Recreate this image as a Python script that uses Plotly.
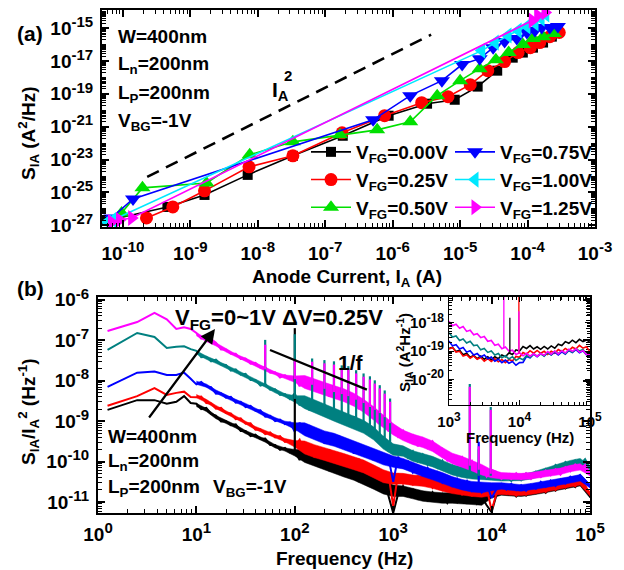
import plotly.graph_objects as go

FONT = "Liberation Sans, Arial, sans-serif"
W, H = 624, 570

# ---------------- Panel (a): S_IA vs anode current (log10 values) ----------------
a_names = ["V<sub>FG</sub>=0.00V", "V<sub>FG</sub>=0.25V", "V<sub>FG</sub>=0.50V",
           "V<sub>FG</sub>=0.75V", "V<sub>FG</sub>=1.00V", "V<sub>FG</sub>=1.25V"]
ia_000 = [-10.26, -9.34, -8.79, -8.15, -7.48, -6.74, -6.06, -5.49, -5.08, -4.74, -4.45, -4.22, -4.07, -3.92, -3.77, -3.64, -3.55]
s_000 = [-26.73, -25.88, -25.15, -23.93, -22.77, -21.55, -20.33, -19.60, -19.36, -18.56, -17.59, -16.80, -16.49, -16.19, -15.88, -15.52, -15.21]
ia_025 = [-9.65, -9.26, -8.79, -8.13, -7.48, -6.75, -6.12, -5.57, -5.18, -4.85, -4.59, -4.34, -4.14, -3.96, -3.82, -3.67, -3.53]
s_025 = [-26.55, -25.88, -24.90, -23.44, -22.77, -21.37, -20.33, -19.54, -19.17, -18.44, -17.59, -17.04, -16.49, -16.19, -15.88, -15.52, -15.27]
ia_050 = [-10.02, -9.71, -8.76, -8.12, -7.48, -6.78, -6.23, -5.74, -5.34, -5.00, -4.71, -4.47, -4.28, -4.07, -3.92, -3.77, -3.61]
s_050 = [-26.25, -24.72, -24.42, -22.71, -21.92, -21.49, -21.19, -20.70, -19.11, -18.20, -17.47, -16.92, -16.49, -16.00, -15.64, -15.52, -15.33]
ia_075 = [-10.17, -9.85, -6.29, -5.74, -5.27, -4.97, -4.71, -4.51, -4.34, -4.16, -4.01, -3.89, -3.79, -3.67, -3.55]
s_075 = [-26.55, -25.39, -20.58, -19.11, -18.20, -17.22, -16.86, -16.19, -15.82, -15.64, -15.27, -15.15, -14.97, -14.97, -14.91]
ia_100 = [-10.23, -10.15, -4.68, -4.48, -4.29, -4.14, -4.01, -3.89, -3.80, -3.73]
s_100 = [-26.80, -26.67, -16.37, -15.88, -15.45, -15.15, -14.90, -14.72, -14.42, -14.17]
ia_125 = [-10.17, -10.05, -9.87, -3.93, -3.85, -3.74]
s_125 = [-26.80, -26.67, -26.55, -14.54, -14.23, -14.05]
i2_ia = [-9.64, -5.43]          # I_A^2 guide line
i2_s = [-24.05, -15.40]

# ---------------- Panel (b): normalized noise spectra (log10 values) ----------------
f_low = [1.25, 2.5, 3.75, 5.0, 6.25, 7.5, 8.75]
f_grid = [10, 11.2, 12.6, 14.1, 15.8, 17.8, 20, 22.4, 25.1, 28.2, 31.6, 35.5, 39.8, 44.7, 50.1, 56.2, 63.1, 70.8, 79.4, 89.1, 100,
          112, 126, 141, 158, 178, 200, 224, 251, 282, 316, 355, 398, 447, 501, 562, 631, 708, 794, 891, 1000,
          1122, 1259, 1413, 1585, 1778, 1995, 2239, 2512, 2818, 3162, 3548, 3981, 4467, 5012, 5623, 6310, 7079, 7943, 8913, 10000,
          11220, 12589, 14125, 15849, 17783, 19953, 22387, 25119, 28184, 31623, 35481, 39811, 44668, 50119, 56234, 63096, 70795, 79433, 89125, 100000]
b_black = [-8.72, -8.48, -8.48, -8.57, -8.52, -8.38, -8.55,
           -8.57, -8.70, -8.67, -8.82, -8.86, -9.01, -9.00, -9.10, -9.08, -9.24, -9.24, -9.37, -9.33, -9.44, -9.43, -9.59, -9.59, -9.71, -9.66, -9.77, -9.73,
           -9.96, -9.74, -10.00, -9.80, -10.13, -9.96, -10.23, -10.01, -10.26, -10.08, -10.38, -10.20, -10.50, -10.27, -10.53, -10.40, -10.72, -10.55, -10.83, -11.27,
           -10.80, -10.61, -10.84, -10.69, -10.94, -10.76, -10.98, -10.76, -10.96, -10.80, -11.02, -10.82, -11.00, -10.80, -11.01, -10.81, -11.04, -10.88, -11.08, -11.25,
           -10.82, -10.70, -10.80, -10.72, -10.86, -10.73, -10.84, -10.69, -10.78, -10.66, -10.77, -10.63, -10.72, -10.57, -10.66, -10.52, -10.63, -10.50, -10.61, -10.85]
b_red = [-8.62, -8.38, -8.18, -8.35, -8.30, -8.27, -8.40,
         -8.41, -8.39, -8.55, -8.56, -8.69, -8.67, -8.80, -8.81, -8.95, -8.93, -9.06, -9.05, -9.21, -9.20, -9.32, -9.28, -9.40, -9.37, -9.51, -9.49, -9.61,
         -9.46, -9.77, -9.60, -9.89, -9.65, -9.89, -9.70, -10.00, -9.83, -10.10, -9.88, -10.14, -9.93, -10.25, -10.10, -10.36, -10.16, -10.45, -10.29, -11.10,
         -10.30, -10.54, -10.36, -10.56, -10.35, -10.57, -10.39, -10.65, -10.49, -10.70, -10.51, -10.74, -10.58, -10.81, -10.63, -10.85, -10.64, -10.82, -10.65, -11.20,
         -10.79, -10.65, -10.79, -10.68, -10.84, -10.70, -10.82, -10.65, -10.76, -10.62, -10.75, -10.59, -10.70, -10.52, -10.64, -10.48, -10.61, -10.45, -10.59, -10.80]
b_blue = [-8.15, -7.80, -7.77, -7.86, -7.86, -7.80, -7.95,
          -8.09, -8.03, -8.14, -8.16, -8.32, -8.31, -8.42, -8.40, -8.54, -8.52, -8.65, -8.62, -8.74, -8.73, -8.89, -8.87, -9.00, -8.96, -9.07, -9.03, -9.26,
          -9.04, -9.30, -9.10, -9.43, -9.27, -9.55, -9.31, -9.55, -9.36, -9.67, -9.50, -9.80, -9.56, -9.81, -9.65, -9.96, -9.78, -10.05, -9.87, -10.50,
          -9.88, -10.13, -10.00, -10.27, -10.11, -10.35, -10.16, -10.39, -10.26, -10.52, -10.37, -10.60, -10.43, -10.66, -10.48, -10.72, -10.56, -10.76, -10.56, -10.90,
          -10.68, -10.55, -10.69, -10.55, -10.70, -10.58, -10.72, -10.57, -10.67, -10.50, -10.62, -10.47, -10.60, -10.44, -10.54, -10.37, -10.47, -10.33, -10.46, -10.60]
b_teal = [-7.24, -6.82, -6.92, -7.19, -7.16, -7.15, -7.22,
          -7.26, -7.42, -7.41, -7.52, -7.48, -7.60, -7.61, -7.75, -7.72, -7.85, -7.83, -7.98, -7.98, -8.12, -8.08, -8.22, -8.21, -8.35, -8.33, -8.45, -8.31,
          -8.61, -8.43, -8.73, -8.50, -8.76, -8.58, -8.91, -8.75, -9.03, -8.82, -9.08, -8.88, -9.21, -9.06, -9.32, -9.16, -9.51, -9.40, -9.75, -9.60,
          -9.82, -9.66, -9.90, -9.74, -9.99, -9.82, -10.08, -9.93, -10.15, -9.98, -10.23, -10.10, -10.34, -10.17, -10.40, -10.20, -10.38, -10.20, -10.43, -10.43,
          -10.30, -10.45, -10.33, -10.48, -10.34, -10.46, -10.30, -10.40, -10.25, -10.36, -10.18, -10.27, -10.08, -10.18, -10.01, -10.13, -9.97, -10.07, -9.94, -10.15]
b_magenta = [-6.77, -6.55, -6.32, -6.48, -6.72, -6.68, -6.72,
             -6.82, -6.96, -6.94, -6.97, -7.06, -7.23, -7.23, -7.33, -7.33, -7.46, -7.45, -7.58, -7.56, -7.68, -7.67, -7.80, -7.79, -7.92, -7.86, -7.96, -7.91,
             -8.14, -7.91, -8.17, -7.97, -8.28, -8.12, -8.39, -8.16, -8.41, -8.22, -8.52, -8.37, -8.70, -8.49, -8.78, -8.68, -9.04, -8.91, -9.23, -9.10,
             -9.38, -9.23, -9.48, -9.35, -9.62, -9.43, -9.66, -9.50, -9.77, -9.68, -9.97, -9.84, -10.06, -9.89, -10.14, -9.98, -10.25, -10.13, -10.37, -10.20,
             -10.25, -10.43, -10.31, -10.43, -10.29, -10.43, -10.29, -10.43, -10.28, -10.38, -10.22, -10.34, -10.19, -10.32, -10.14, -10.24, -10.07, -10.18, -10.08, -10.30]
# noise-band envelope: band centre (log10) at 0.1-decade steps and band half-width (decades)
env_f = [10, 12.6, 15.8, 20, 25.1, 31.6, 39.8, 50.1, 63.1, 79.4, 100, 126, 158, 200, 251, 316, 398, 501, 631, 794, 1000,
         1259, 1585, 1995, 2512, 3162, 3981, 5012, 6310, 7943, 10000, 12589, 15849, 19953, 25119, 31623, 39811, 50119, 63096, 79433, 100000]
env_hw = [0.04, 0.04, 0.04, 0.04, 0.04, 0.04, 0.04, 0.04, 0.04, 0.04, 0.08, 0.16, 0.16, 0.16, 0.16, 0.16, 0.16, 0.16, 0.16, 0.16, 0.14,
          0.13, 0.13, 0.13, 0.13, 0.13, 0.13, 0.13, 0.13, 0.13, 0.10, 0.08, 0.08, 0.08, 0.08, 0.08, 0.08, 0.08, 0.08, 0.08, 0.05]
env_black = [-8.60, -8.72, -8.90, -9.02, -9.13, -9.27, -9.37, -9.48, -9.62, -9.70, -9.78, -9.86, -9.95, -10.04, -10.13, -10.22, -10.30, -10.40, -10.52, -10.64, -10.72,
             -10.73, -10.79, -10.85, -10.88, -10.90, -10.90, -10.91, -10.93, -10.95, -10.80, -10.75, -10.77, -10.78, -10.75, -10.71, -10.67, -10.62, -10.57, -10.52, -10.85]
env_red = [-8.38, -8.50, -8.65, -8.78, -8.90, -9.03, -9.17, -9.27, -9.37, -9.47, -9.56, -9.65, -9.74, -9.81, -9.88, -9.96, -10.04, -10.12, -10.24, -10.36, -10.42,
           -10.42, -10.46, -10.48, -10.53, -10.60, -10.66, -10.70, -10.73, -10.75, -10.74, -10.73, -10.75, -10.76, -10.73, -10.69, -10.65, -10.60, -10.55, -10.50, -10.80]
env_blue = [-8.05, -8.12, -8.27, -8.39, -8.50, -8.60, -8.72, -8.85, -8.95, -9.04, -9.12, -9.20, -9.30, -9.40, -9.46, -9.55, -9.65, -9.73, -9.82, -9.92, -10.00,
            -10.05, -10.15, -10.24, -10.32, -10.40, -10.50, -10.57, -10.62, -10.64, -10.62, -10.60, -10.63, -10.65, -10.62, -10.58, -10.54, -10.50, -10.45, -10.40, -10.60]
env_teal = [-7.30, -7.43, -7.53, -7.64, -7.76, -7.88, -8.00, -8.12, -8.26, -8.36, -8.45, -8.53, -8.63, -8.73, -8.84, -8.94, -9.03, -9.14, -9.30, -9.53, -9.70,
            -9.74, -9.86, -9.93, -10.00, -10.10, -10.20, -10.26, -10.30, -10.32, -10.36, -10.40, -10.40, -10.39, -10.35, -10.28, -10.20, -10.12, -10.05, -10.00, -10.15]
env_magenta = [-6.85, -6.99, -7.10, -7.25, -7.38, -7.48, -7.60, -7.72, -7.82, -7.90, -7.96, -8.03, -8.12, -8.20, -8.28, -8.36, -8.47, -8.62, -8.80, -9.00, -9.20,
               -9.35, -9.45, -9.52, -9.62, -9.78, -9.92, -10.00, -10.10, -10.20, -10.30, -10.35, -10.36, -10.37, -10.35, -10.31, -10.28, -10.24, -10.17, -10.13, -10.30]
# line-frequency harmonics and other spikes
spike_f = [50, 100, 150, 200, 250, 300, 350, 420, 500, 580, 650, 730, 820, 930, 6000, 7400, 9800]
teal_spike_top = [-6.99, -6.85, -7.45, -7.49, -7.52, -7.62, -7.64, -7.74, -7.82, -7.89, -7.99, -8.11, -8.24, -8.44, -8.08, -9.70, -8.65]
teal_spike_base = [-8.12, -8.45, -8.58, -8.73, -8.84, -8.90, -8.98, -9.05, -9.14, -9.25, -9.35, -9.45, -9.55, -9.65, -10.30, -10.35, -10.35]
mag_spike_top = [-7.11, -7.50, -7.53, -7.57, -7.60, -7.70, -7.72, -7.82, -7.90, -7.97, -8.07, -8.19, -8.32, -8.52, -8.15, -9.62, -8.72]
mag_spike_base = [-7.72, -7.96, -8.10, -8.20, -8.28, -8.33, -8.38, -8.47, -8.55, -8.65, -8.72, -8.80, -8.90, -9.05, -10.10, -10.20, -10.30]
blk_spike_f, blk_spike_top, blk_spike_base = [100], [-6.70], [-9.80]
blu_spike_f, blu_spike_top, blu_spike_base = [7400], [-9.51], [-10.60]
one_f_x = [56, 540]
one_f_y = [-7.24, -8.22]

# ---------------- Inset: S_IA spectra 1 kHz - 100 kHz (log10 values) ----------------
fi = [1000, 1122, 1259, 1413, 1585, 1778, 1995, 2239, 2512, 2818, 3162, 3548, 3981, 4467, 5012, 5623, 6310, 7079, 7943, 8913, 10000,
      11220, 12589, 14125, 15849, 17783, 19953, 22387, 25119, 28184, 31623, 35481, 39811, 44668, 50119, 56234, 63096, 70795, 79433, 89125, 100000]
in_black = [-18.91, -18.87, -19.02, -18.97, -19.13, -19.08, -19.22, -19.16, -19.27, -19.18, -19.29, -19.20, -19.31, -19.20, -19.27, -19.14, -19.20, -19.07, -19.12, -18.96, -19.00,
            -18.84, -18.91, -18.81, -18.93, -18.85, -18.94, -18.84, -18.93, -18.82, -18.90, -18.76, -18.81, -18.67, -18.73, -18.62, -18.71, -18.59, -18.67, -18.61, -18.70]
in_red = [-18.93, -18.88, -19.04, -19.01, -19.18, -19.13, -19.25, -19.17, -19.29, -19.23, -19.36, -19.27, -19.37, -19.27, -19.38, -19.30, -19.41, -19.30, -19.35, -19.19, -19.22,
          -19.05, -19.11, -18.99, -19.08, -18.98, -19.08, -19.01, -19.12, -19.01, -19.08, -18.95, -19.02, -18.91, -18.99, -18.87, -18.93, -18.80, -18.90, -18.85, -19.03]
in_blue = [-18.65, -18.82, -18.78, -18.93, -18.88, -19.04, -18.99, -19.14, -19.09, -19.21, -19.14, -19.27, -19.21, -19.36, -19.29, -19.41, -19.32, -19.43, -19.37, -19.50, -19.41,
           -19.40, -19.19, -19.24, -19.11, -19.20, -19.10, -19.17, -19.05, -19.14, -19.04, -19.14, -19.03, -19.11, -18.98, -19.05, -18.95, -19.06, -18.99, -19.13, -19.17]
in_teal = [-18.36, -18.51, -18.47, -18.63, -18.58, -18.72, -18.66, -18.81, -18.79, -18.96, -18.91, -19.05, -19.00, -19.14, -19.09, -19.24, -19.17, -19.28, -19.20, -19.33, -19.25,
           -19.31, -19.16, -19.23, -19.10, -19.18, -19.09, -19.18, -19.06, -19.13, -19.01, -19.09, -18.99, -19.09, -18.97, -19.04, -18.92, -19.00, -18.95, -19.11, -19.12]
in_magenta = [-17.95, -18.11, -18.06, -18.20, -18.14, -18.31, -18.27, -18.43, -18.39, -18.53, -18.49, -18.66, -18.63, -18.80, -18.76, -18.92, -18.86, -19.00, -18.97, -19.12, -19.06,
              -19.17, -19.08, -19.18, -19.09, -19.19, -19.09, -19.15, -19.02, -19.11, -19.00, -19.10, -18.99, -19.07, -18.94, -19.01, -18.92, -19.04, -18.98, -19.12, -19.12]
in_blk_spike_f, in_blk_spike_top, in_blk_spike_base = [7300], [-17.83], [-19.10]
in_red_spike_f, in_red_spike_top, in_red_spike_base = [9800], [-16.90], [-19.10]
in_mag_spike_f, in_mag_spike_top, in_mag_spike_base = [6000, 9800], [-16.90, -17.60], [-18.90, -19.10]

C_BLACK, C_RED, C_GREEN, C_BLUE, C_CYAN, C_MAG, C_TEAL = "#000000", "#ff0000", "#00e000", "#0000ff", "#00e8ff", "#ff00ff", "#008080"


def p10(vals):
    return [10.0 ** v for v in vals]


def px(x):
    return x / W


def py(y):
    return 1 - y / H


def spikes(fs, tops, bases):
    xs, ys = [], []
    for f, t, b in zip(fs, tops, bases):
        xs += [f, f, None]
        ys += [10.0 ** b, 10.0 ** t, None]
    return xs, ys


fig = go.Figure()

# ---- panel (a) traces ----
a_series = [
    (ia_000, s_000, "square", 10, C_BLACK, "legend"),
    (ia_025, s_025, "circle", 13, C_RED, "legend"),
    (ia_050, s_050, "triangle-up", 14, C_GREEN, "legend"),
    (ia_075, s_075, "triangle-down", 14, C_BLUE, "legend2"),
    (ia_100, s_100, "triangle-left", 14, C_CYAN, "legend2"),
    (ia_125, s_125, "triangle-right", 14, C_MAG, "legend2"),
]
for k, (xv, yv, sym, sz, col, lg) in enumerate(a_series):
    fig.add_trace(go.Scatter(x=p10(xv), y=p10(yv), mode="lines+markers", name=a_names[k],
                             line=dict(color=col, width=1.6), marker=dict(symbol=sym, size=sz, color=col, line=dict(width=0)),
                             xaxis="x", yaxis="y", legend=lg, legendgroup=f"g{k}"))
fig.add_trace(go.Scatter(x=p10(i2_ia), y=p10(i2_s), mode="lines", line=dict(color="black", width=2.6, dash="13px,8px"),
                         showlegend=False, xaxis="x", yaxis="y"))

# ---- panel (b) traces ----
for vals, env, col in [(b_black, env_black, C_BLACK), (b_red, env_red, C_RED), (b_blue, env_blue, C_BLUE),
                       (b_teal, env_teal, C_TEAL), (b_magenta, env_magenta, C_MAG)]:
    upper = [10.0 ** (c + h) for c, h in zip(env, env_hw)]
    lower = [10.0 ** (c - h) for c, h in zip(env, env_hw)]
    fig.add_trace(go.Scatter(x=env_f + env_f[::-1], y=upper + lower[::-1], mode="lines", fill="toself",
                             fillcolor=col, line=dict(color=col, width=0.5),
                             showlegend=False, xaxis="x2", yaxis="y2", hoverinfo="skip"))
    fig.add_trace(go.Scatter(x=f_low + f_grid, y=p10(vals), mode="lines", line=dict(color=col, width=2),
                             showlegend=False, xaxis="x2", yaxis="y2"))
for fs, tops, bases, col in [(blk_spike_f, blk_spike_top, blk_spike_base, C_BLACK),
                             (blu_spike_f, blu_spike_top, blu_spike_base, C_BLUE),
                             (spike_f, teal_spike_top, teal_spike_base, C_TEAL),
                             (spike_f, mag_spike_top, mag_spike_base, C_MAG)]:
    sx, sy = spikes(fs, tops, bases)
    fig.add_trace(go.Scatter(x=sx, y=sy, mode="lines", line=dict(color=col, width=2.2),
                             showlegend=False, xaxis="x2", yaxis="y2"))
fig.add_trace(go.Scatter(x=one_f_x, y=p10(one_f_y), mode="lines", line=dict(color="black", width=2.2),
                         showlegend=False, xaxis="x2", yaxis="y2"))

# ---- inset traces ----
for vals, col in [(in_black, C_BLACK), (in_red, C_RED), (in_blue, C_BLUE), (in_teal, C_TEAL), (in_magenta, C_MAG)]:
    fig.add_trace(go.Scatter(x=fi, y=p10(vals), mode="lines", line=dict(color=col, width=1.6),
                             showlegend=False, xaxis="x3", yaxis="y3"))
for fs, tops, bases, col in [(in_blk_spike_f, in_blk_spike_top, in_blk_spike_base, C_BLACK),
                             (in_red_spike_f, in_red_spike_top, in_red_spike_base, C_RED),
                             (in_mag_spike_f, in_mag_spike_top, in_mag_spike_base, C_MAG)]:
    sx, sy = spikes(fs, tops, bases)
    fig.add_trace(go.Scatter(x=sx, y=sy, mode="lines", line=dict(color=col, width=1.3),
                             showlegend=False, xaxis="x3", yaxis="y3"))


def log_axis(domain, rng, anchor, major, size, sup, lw=2, tl=7, ml=4, standoff=None, extra_minor=()):
    minor_vals = [m * 10.0 ** e for e in range(min(major) - 2, max(major) + 2) for m in range(2, 10)]
    minor_vals += [10.0 ** e for e in extra_minor]
    ax = dict(type="log", domain=domain, range=rng, anchor=anchor, automargin=False,
              tickmode="array", tickvals=[10.0 ** e for e in major],
              ticktext=[f"10<sup><span style='font-size:{sup}px'>{e}</span></sup>" for e in major],
              ticks="inside", ticklen=tl, tickwidth=lw, tickcolor="black",
              showline=True, linewidth=lw, linecolor="black", mirror="allticks",
              showgrid=False, zeroline=False,
              tickfont=dict(family=FONT, size=size, color="black", weight="bold"),
              minor=dict(tickmode="array", tickvals=minor_vals,
                         ticks="inside", ticklen=ml, tickwidth=1, tickcolor="black", showgrid=False))
    if standoff is not None:
        ax["ticklabelstandoff"] = standoff
    return ax


LEG_FONT = dict(family=FONT, size=19, color="black", weight="bold")
layout = dict(
    width=W, height=H, autosize=False, margin=dict(l=0, r=0, t=0, b=0),
    paper_bgcolor="white", plot_bgcolor="rgba(0,0,0,0)",
    font=dict(family=FONT, color="black"),
    xaxis=log_axis([px(102), px(595)], [-10.31, -3.0], "y", list(range(-10, -2)), 19, 15, standoff=8),
    yaxis=log_axis([py(227), py(10)], [-27.1, -13.9], "x", [-27, -25, -23, -21, -19, -17, -15], 19, 15, standoff=3,
                   extra_minor=[-26, -24, -22, -20, -18, -16, -14]),
    xaxis2=log_axis([px(98), px(590)], [0, 5], "y2", list(range(0, 6)), 19, 15, standoff=3),
    yaxis2=log_axis([py(513), py(297)], [-11.27, -5.93], "x2", list(range(-11, -5)), 19, 15, standoff=3),
    xaxis3=log_axis([px(449), px(590)], [3, 5], "y3", [3, 4, 5], 15, 12, lw=1, tl=5, ml=3, standoff=3),
    yaxis3=log_axis([py(405), py(297)], [-20.9, -17.1], "x3", [-20, -19, -18], 15, 12, lw=1, tl=5, ml=3, standoff=1),
    legend=dict(x=px(306), y=py(133), xanchor="left", yanchor="top", orientation="v", itemwidth=40,
                traceorder="grouped", tracegroupgap=0, bgcolor="rgba(0,0,0,0)", font=LEG_FONT),
    legend2=dict(x=px(450), y=py(133), xanchor="left", yanchor="top", orientation="v", itemwidth=40,
                 traceorder="grouped", tracegroupgap=0, bgcolor="rgba(0,0,0,0)", font=LEG_FONT),
)
fig.update_layout(**layout)


def ann(text, x, y, size, xanchor="left", yanchor="middle", angle=0):
    return dict(text=text, x=px(x), y=py(y), xref="paper", yref="paper", xanchor=xanchor, yanchor=yanchor,
                showarrow=False, textangle=angle, font=dict(family=FONT, size=size, color="black", weight="bold"))


anns = [
    ann("(a)", 15, 34, 21),
    ann("W=400nm", 116, 37, 19),
    ann("L<sub>n</sub>=200nm", 116, 65, 19),
    ann("L<sub>P</sub>=200nm", 116, 94, 19),
    ann("V<sub>BG</sub>=-1V", 116, 122, 19),
    ann("I<sub>A</sub>", 270, 91, 21),
    ann("2", 282, 76, 15),
    ann("Anode Current, I<sub>A</sub> (A)", 347, 278, 19, xanchor="center"),
    ann("S<sub>IA</sub> (A<sup>2</sup>/Hz)", 28, 133, 19, xanchor="center", angle=-90),
    ann("(b)", 15, 288, 21),
    ann("V<sub>FG</sub>=0~1V ΔV=0.25V", 173, 319, 22),
    ann("1/f", 336, 362, 21),
    ann("W=400nm", 106, 436, 19),
    ann("L<sub>n</sub>=200nm", 106, 462, 19),
    ann("L<sub>P</sub>=200nm", 106, 488, 19),
    ann("V<sub>BG</sub>=-1V", 211, 488, 19),
    ann("Frequency (Hz)", 344, 558, 19, xanchor="center"),
    ann("S<sub>IA</sub>/I<sub>A</sub><sup>2</sup> (Hz<sup>-1</sup>)", 28, 412, 19, xanchor="center", angle=-90),
    ann("Frequency (Hz)", 520, 437, 15, xanchor="center"),
    ann("S<sub>IA</sub> (A<sup>2</sup>Hz<sup>-1</sup>)", 404, 353, 15, xanchor="center", angle=-90),
    dict(text="", x=px(215), y=py(329), xref="paper", yref="paper", showarrow=True, ax=-67, ay=90,
         axref="pixel", ayref="pixel", arrowhead=2, arrowsize=1.3, arrowwidth=2.2, arrowcolor="black"),
]
fig.update_layout(annotations=anns)

fig.write_html("out.html")
